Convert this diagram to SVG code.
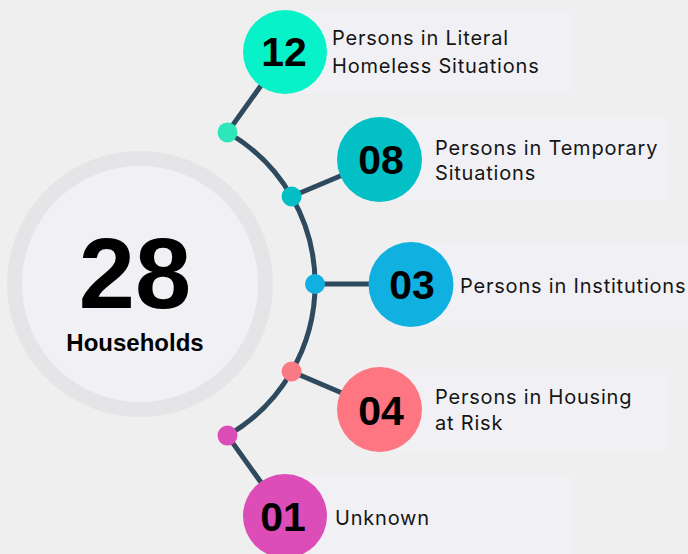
<svg xmlns="http://www.w3.org/2000/svg" width="688" height="554" viewBox="0 0 688 554">
  <style>
    .panel { fill: #f1f1f5; }
    .link { stroke: #2e4a5e; stroke-width: 5; fill: none; stroke-linecap: round; }
    .num { font-family: "Liberation Sans", Arial, sans-serif; font-weight: bold; font-size: 41px; fill: #000; text-anchor: middle; }
    .label { font-family: "Inter", "Noto Sans", sans-serif; font-size: 20px; letter-spacing: 0.8px; fill: #151515; }
  </style>
  <rect width="688" height="554" fill="#efefef"/>

  <!-- label panels -->
  <g id="panels">
    <rect class="panel" x="285" y="11" width="287" height="82" rx="4"/>
    <rect class="panel" x="380" y="118" width="286" height="82" rx="4"/>
    <rect class="panel" x="411" y="243" width="290" height="84" rx="4"/>
    <rect class="panel" x="380" y="369" width="286" height="82" rx="4"/>
    <rect class="panel" x="285" y="475" width="286" height="90" rx="4"/>
  </g>

  <!-- total -->
  <g id="total">
    <circle cx="140" cy="284" r="125.5" fill="#f1f1f5" stroke="#e5e5e8" stroke-width="15"/>
    <text x="135" y="308" font-family="Liberation Sans, Arial, sans-serif" font-weight="bold" font-size="101" text-anchor="middle" fill="#000">28</text>
    <text x="135" y="351" font-family="Liberation Sans, Arial, sans-serif" font-weight="bold" font-size="24" text-anchor="middle" fill="#000">Households</text>
  </g>

  <!-- connectors -->
  <g id="connectors">
    <path class="link" d="M227.5 132.4 A175 175 0 0 1 227.5 435.6"/>
    <line class="link" x1="227.5" y1="132.4" x2="285" y2="52"/>
    <line class="link" x1="291.6" y1="196.5" x2="379.5" y2="159.5"/>
    <line class="link" x1="315" y1="284" x2="411" y2="284"/>
    <line class="link" x1="291.6" y1="371.5" x2="379.5" y2="409"/>
    <line class="link" x1="227.5" y1="435.6" x2="285" y2="516"/>
  </g>

  <g id="literal">
    <circle cx="227.5" cy="132.4" r="10" fill="#2de6b9"/>
    <circle cx="285" cy="52" r="42" fill="#07f2c9"/>
    <text class="num" x="284" y="66">12</text>
    <text class="label" x="332" y="45">Persons in Literal</text>
    <text class="label" x="332" y="73">Homeless Situations</text>
  </g>

  <g id="temporary">
    <circle cx="291.6" cy="196.5" r="10" fill="#04bec5"/>
    <circle cx="379.5" cy="159.5" r="42.5" fill="#03bfc6"/>
    <text class="num" x="381" y="173.5">08</text>
    <text class="label" x="435" y="155">Persons in Temporary</text>
    <text class="label" x="435" y="180">Situations</text>
  </g>

  <g id="institutions">
    <circle cx="315" cy="284" r="10" fill="#10b0e0"/>
    <circle cx="411" cy="284.5" r="42.5" fill="#10b0e0"/>
    <text class="num" x="412" y="299">03</text>
    <text class="label" x="460" y="292.5">Persons in Institutions</text>
  </g>

  <g id="risk">
    <circle cx="291.6" cy="371.5" r="10" fill="#f87a84"/>
    <circle cx="379.5" cy="409.5" r="42.5" fill="#fe7681"/>
    <text class="num" x="381" y="424.5">04</text>
    <text class="label" x="435" y="404">Persons in Housing</text>
    <text class="label" x="435" y="430">at Risk</text>
  </g>

  <g id="unknown">
    <circle cx="227.5" cy="435.6" r="10" fill="#dc4cb6"/>
    <circle cx="285" cy="516" r="42" fill="#dd4db7"/>
    <text class="num" x="283" y="531">01</text>
    <text class="label" x="335" y="525">Unknown</text>
  </g>
</svg>
